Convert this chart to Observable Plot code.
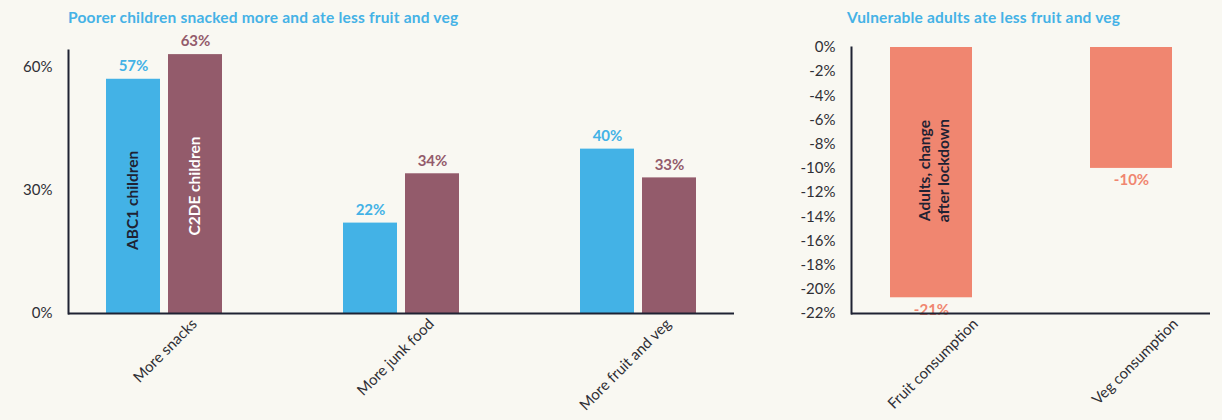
<!DOCTYPE html>
<html>
<head>
<meta charset="utf-8">
<script src="https://cdn.jsdelivr.net/npm/d3@7"></script>
<script src="https://cdn.jsdelivr.net/npm/@observablehq/plot@0.6"></script>
<style>
  html, body { margin: 0; padding: 0; background: #f9f8f2; }
  #wrap { display: flex; width: 1222px; height: 420px; font-family: Lato, "Noto Sans", sans-serif; }
  .panel { position: relative; }
  .title { height: 30px; box-sizing: border-box; padding-top: 8px; font-size: 15.5px; line-height: 18px; font-weight: 700; color: #45b2e6; white-space: nowrap; letter-spacing: 0.2px; }
  svg { display: block; }
</style>
</head>
<body>
<div id="wrap">
  <div class="panel" id="left" style="width:760px">
    <div class="title" style="padding-left:68px">Poorer children snacked more and ate less fruit and veg</div>
  </div>
  <div class="panel" id="right" style="width:462px">
    <div class="title" style="padding-left:87px">Vulnerable adults ate less fruit and veg</div>
  </div>
</div>
<script>
// ---- Data ----
const categories = ["More snacks", "More junk food", "More fruit and veg"];
const abc1Values = [57, 22, 40];
const c2deValues = [63, 34, 33];
const seriesNames = ["ABC1 children", "C2DE children"];
const leftTicks = [0, 30, 60];

const adultCategories = ["Fruit consumption", "Veg consumption"];
const adultValues = [-20.7, -10];
const adultSeriesName = "Adults, change\nafter lockdown";
const rightTicks = [0, -2, -4, -6, -8, -10, -12, -14, -16, -18, -20, -22];

// ---- Styles ----
const BLUE = "#43b2e6";
const MAROON = "#935b6b";
const SALMON = "#f08670";
const INK = "#1f2233";
const TICK = "#2f2f35";
const FONT = "Lato, 'Noto Sans', sans-serif";

const rows = categories.map((c, i) => ({cat: c, abc1: abc1Values[i], c2de: c2deValues[i]}));
const adultRows = adultCategories.map((c, i) => ({cat: c, value: adultValues[i]}));

const leftPlot = Plot.plot({
  width: 760,
  height: 390,
  marginLeft: 68,
  marginRight: 26,
  marginTop: 20,
  marginBottom: 107,
  style: {background: "transparent", fontFamily: FONT, fontSize: "15px", color: TICK},
  x: {domain: categories, paddingInner: 0.3, paddingOuter: 0.055, label: null},
  y: {domain: [0, 64], label: null},
  marks: [
    Plot.barY(rows, {x: "cat", y: "abc1", fill: BLUE, insetLeft: 25, insetRight: 87}),
    Plot.barY(rows, {x: "cat", y: "c2de", fill: MAROON, insetLeft: 87, insetRight: 25}),
    Plot.text(rows, {x: "cat", y: "abc1", text: d => d.abc1 + "%", dx: -31, dy: -13, fill: BLUE, fontWeight: 700, fontSize: 15}),
    Plot.text(rows, {x: "cat", y: "c2de", text: d => d.c2de + "%", dx: 31, dy: -13, fill: MAROON, fontWeight: 700, fontSize: 15}),
    Plot.text([rows[0]], {x: "cat", y: d => d.abc1 / 2, text: () => seriesNames[0], rotate: -90, dx: -31, dy: 4, fill: INK, fontWeight: 700, fontSize: 15.5}),
    Plot.text([rows[0]], {x: "cat", y: d => d.c2de / 2, text: () => seriesNames[1], rotate: -90, dx: 31, dy: 2, fill: "#ffffff", fontWeight: 700, fontSize: 15.5}),
    Plot.ruleY([0], {stroke: INK, strokeWidth: 2}),
    Plot.frame({anchor: "left", stroke: INK, strokeWidth: 2}),
    Plot.axisY({ticks: leftTicks, tickFormat: d => d + "%", tickSize: 0, tickPadding: 16, fontSize: 15}),
    Plot.axisX({tickSize: 0, tickRotate: -45, tickPadding: 8, dx: 30, fontSize: 15, label: null})
  ]
});
document.getElementById("left").appendChild(leftPlot);

const rightPlot = Plot.plot({
  width: 462,
  height: 390,
  marginLeft: 91,
  marginRight: 12,
  marginTop: 17,
  marginBottom: 107,
  style: {background: "transparent", fontFamily: FONT, fontSize: "15px", color: TICK},
  x: {domain: adultCategories, paddingInner: 0.59, paddingOuter: 0.19, label: null},
  y: {domain: [-22, 0], label: null},
  marks: [
    Plot.barY(adultRows, {x: "cat", y: "value", fill: SALMON}),
    Plot.text(adultRows, {x: "cat", y: "value", text: d => Math.round(d.value) + "%", dy: 12, fill: SALMON, fontWeight: 700, fontSize: 15}),
    Plot.text([adultRows[0]], {x: "cat", y: d => d.value / 2, text: () => adultSeriesName, rotate: -90, dx: 2, dy: -2, fill: INK, fontWeight: 700, fontSize: 15.5, lineHeight: 1.25}),
    Plot.ruleY([-22], {stroke: INK, strokeWidth: 2}),
    Plot.frame({anchor: "left", stroke: INK, strokeWidth: 2}),
    Plot.axisY({ticks: rightTicks, tickFormat: d => d + "%", tickSize: 0, tickPadding: 16, fontSize: 15}),
    Plot.axisX({tickSize: 0, tickRotate: -45, tickPadding: 8, dx: 44, fontSize: 15, label: null})
  ]
});
document.getElementById("right").appendChild(rightPlot);
</script>
</body>
</html>
